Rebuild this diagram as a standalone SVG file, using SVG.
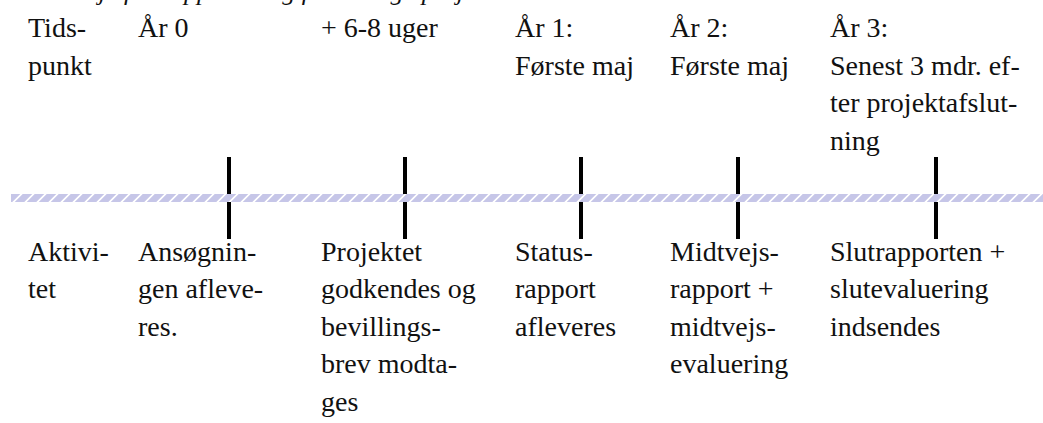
<svg xmlns="http://www.w3.org/2000/svg" width="1043" height="423" viewBox="0 0 1043 423">
<style>
text{font-family:"Liberation Serif","Times New Roman",serif;font-size:28px;fill:#111}
.cap{font-style:italic;font-size:26px}
.tick{fill:#000}
</style>
<defs>
<pattern id="hatch" width="12" height="8" patternUnits="userSpaceOnUse" patternTransform="translate(11 194) skewX(-45)">
<rect x="0" y="0" width="12" height="8" fill="#fff"/>
<rect x="0" y="0" width="9" height="8" fill="#e4e4f5"/>
<path d="M0.5 0V8M2.5 0V8M4.5 0V8M6.5 0V8M8.5 0V8" stroke="#a8a8da" stroke-width="1"/>
</pattern>
</defs>
<rect width="1043" height="423" fill="#fff"/>
<text class="cap" x="28" y="0.3">Tidslinje for rapportering for 3-årige projekter</text>
<g id="connectors">
<rect class="tick" x="227" y="157" width="4" height="82"/>
<rect class="tick" x="403" y="157" width="4" height="82"/>
<rect class="tick" x="579" y="157" width="4" height="82"/>
<rect class="tick" x="736" y="157" width="4" height="82"/>
<rect class="tick" x="934" y="157" width="4" height="82"/>
<rect x="11" y="194" width="1032" height="8" fill="url(#hatch)"/>
</g>
<g id="col-label">
<text x="28" y="37">Tids-</text>
<text x="28" y="75">punkt</text>
<text x="28" y="261">Aktivi-</text>
<text x="28" y="298">tet</text>
</g>
<g id="col-year0">
<text x="138" y="37">År 0</text>
<text x="138" y="261">Ansøgnin-</text>
<text x="138" y="298">gen afleve-</text>
<text x="138" y="336">res.</text>
</g>
<g id="col-weeks">
<text x="321" y="37">+ 6-8 uger</text>
<text x="321" y="261">Projektet</text>
<text x="321" y="298">godkendes og</text>
<text x="321" y="336">bevillings-</text>
<text x="321" y="373">brev modta-</text>
<text x="321" y="411">ges</text>
</g>
<g id="col-year1">
<text x="515" y="37">År 1:</text>
<text x="515" y="75">Første maj</text>
<text x="515" y="261">Status-</text>
<text x="515" y="298">rapport</text>
<text x="515" y="336">afleveres</text>
</g>
<g id="col-year2">
<text x="670" y="37">År 2:</text>
<text x="670" y="75">Første maj</text>
<text x="670" y="261">Midtvejs-</text>
<text x="670" y="298">rapport +</text>
<text x="670" y="336">midtvejs-</text>
<text x="670" y="373">evaluering</text>
</g>
<g id="col-year3">
<text x="830" y="37">År 3:</text>
<text x="830" y="75">Senest 3 mdr. ef-</text>
<text x="830" y="112">ter projektafslut-</text>
<text x="830" y="150">ning</text>
<text x="830" y="261">Slutrapporten +</text>
<text x="830" y="298">slutevaluering</text>
<text x="830" y="336">indsendes</text>
</g>
</svg>
